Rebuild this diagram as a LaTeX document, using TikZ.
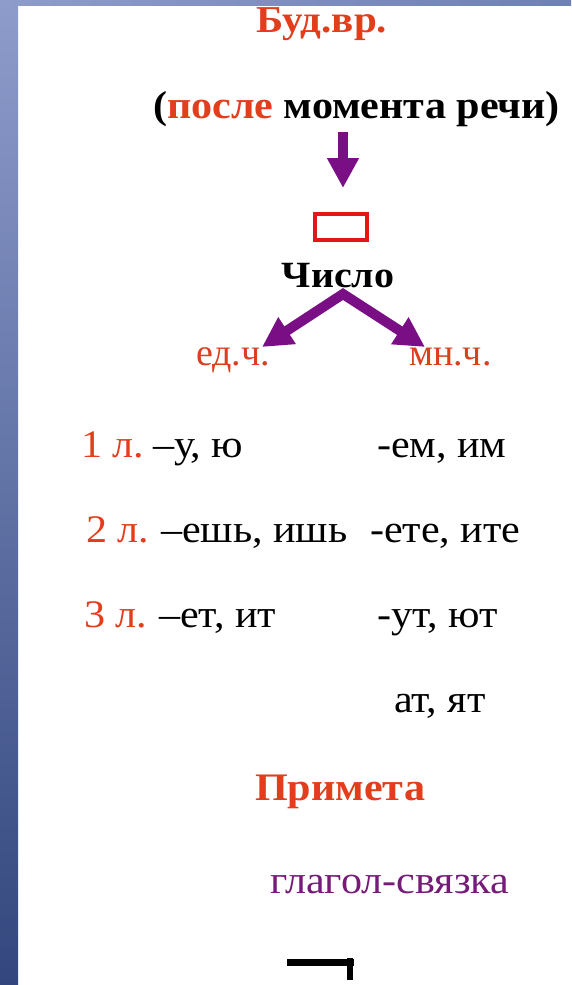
\documentclass[tikz,border=0pt]{standalone}
\usepackage{fontspec}
\setmainfont{Liberation Serif}[FakeStretch=1.08]
\newfontfamily\plainserif{Liberation Serif}
\usetikzlibrary{arrows.meta}
\definecolor{hred}{HTML}{E23E1C}
\definecolor{lred}{HTML}{D8401E}
\definecolor{boxred}{HTML}{E01818}
\definecolor{arrpurple}{HTML}{7A0F85}
\definecolor{txtpurple}{HTML}{761C78}
\definecolor{stripA}{HTML}{8E9CCB}
\definecolor{stripB}{HTML}{33477E}
\definecolor{stripC}{HTML}{6F80B4}
\newcommand\setfs[1]{\fontsize{#1}{#1}\selectfont}
\begin{document}
\begin{tikzpicture}[x=1pt,y=-1pt,
  txt/.style={inner sep=0pt, outer sep=0pt, anchor=base west, font=\setfs{39}},
  btxt/.style={txt, font=\setfs{39}\bfseries},
  numtxt/.style={txt, font=\plainserif\setfs{38}, text=lred},
  bigarrow/.style={draw=arrpurple, line width=10pt,
    -{Triangle[width=30pt,length=30pt]}},
  dblarrow/.style={draw=arrpurple, line width=10pt, line join=miter,
    {Triangle[width=30pt,length=30pt]}-{Triangle[width=30pt,length=30pt]}}]
\useasboundingbox[fill=white] (0,0) rectangle (571,985);
% background strips
\shade[top color=stripA, bottom color=stripB] (0,0) rectangle (18,985);
\shade[left color=stripA, right color=stripC] (0,0) rectangle (571,5);
% title
\node[btxt, anchor=base, text=hred, font=\setfs{38}\bfseries] (bud) at (322,32) {Буд.вр.};
\node[btxt] (posle) at (153,118) {(\textcolor{hred}{после} момента речи)};
% down arrow and box
\coordinate (dtop) at (343,132);
\coordinate (dtip) at (343,188);
\draw[bigarrow] (dtop) -- (dtip);
\node[draw=boxred, line width=3.5pt, minimum width=52pt, minimum height=26pt,
  inner sep=0pt] (box) at (341,227) {};
% Число
\node[btxt, anchor=base, font=\setfs{37}\bfseries] (chislo) at (338,287) {Число};
\coordinate (apex) at (343,294);
\coordinate (ltip) at (262,347);
\coordinate (rtip) at (425,347);
\draw[dblarrow] (ltip) -- (apex) -- (rtip);
\node[numtxt] (ed) at (196,365) {ед.ч.};
\node[numtxt] (mn) at (409,365) {мн.ч.};
% rows
\node[txt, text=hred] (l1) at (81,457) {1 л.};
\node[txt] (e1) at (153,457) {–у, ю};
\node[txt] (m1) at (377,457) {-ем, им};
\node[txt, text=hred] (l2) at (86,542) {2 л.};
\node[txt] (e2) at (161,542) {–ешь, ишь};
\node[txt] (m2) at (370,542) {-ете, ите};
\node[txt, text=hred] (l3) at (84,627) {3 л.};
\node[txt] (e3) at (159,627) {–ет, ит};
\node[txt] (m3) at (377,627) {-ут, ют};
\node[txt] (m4) at (394,712) {ат, ят};
% Примета
\node[btxt, text=hred] (prim) at (255,800) {Примета};
\node[txt, text=txtpurple] (glag) at (270,893) {глагол-связка};
% bottom symbol
\coordinate (hl) at (287,962);
\coordinate (hr) at (354,962);
\coordinate (vt) at (350,958);
\coordinate (vb) at (350,980);
\draw[line width=7pt] (hl) -- (hr);
\draw[line width=6pt] (vt) -- (vb);
\end{tikzpicture}
\end{document}
